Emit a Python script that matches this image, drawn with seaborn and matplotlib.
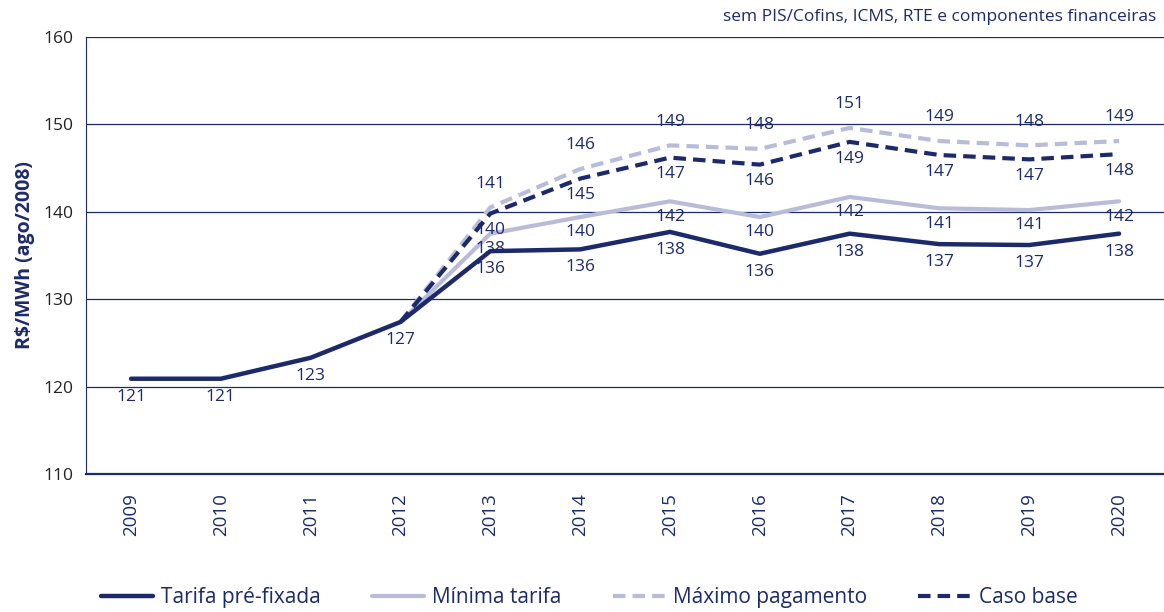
import pandas as pd
import seaborn as sns
import matplotlib.pyplot as plt

# data
years = [2009, 2010, 2011, 2012, 2013, 2014, 2015, 2016, 2017, 2018, 2019, 2020]
tarifa_pre = [120.9, 120.9, 123.3, 127.4, 135.5, 135.7, 137.7, 135.2, 137.5, 136.3, 136.2, 137.5]
minima_tarifa = [127.4, 137.5, 139.4, 141.2, 139.4, 141.7, 140.4, 140.2, 141.2]
maximo_pag = [127.4, 140.5, 144.9, 147.6, 147.2, 149.6, 148.1, 147.6, 148.1]
caso_base = [127.4, 139.8, 143.8, 146.2, 145.4, 148.0, 146.5, 146.0, 146.6]
later_years = years[3:]

lbl_tarifa = [121, 121, 123, 127, 136, 136, 138, 136, 138, 137, 137, 138]
lbl_minima = [138, 140, 142, 140, 142, 141, 141, 142]
lbl_maximo = [141, 146, 149, 148, 151, 149, 148, 149]
lbl_base = [140, 145, 147, 146, 149, 147, 147, 148]

navy = "#1c2a6b"
lilac = "#b9bcd8"

sns.set_style("white")
plt.rcParams["font.family"] = ["Open Sans", "DejaVu Sans"]

fig = plt.figure(figsize=(11.64, 6.12), dpi=100)
ax = fig.add_axes([0.074, 0.2255, 0.926, 0.714])

pos = {y: i for i, y in enumerate(years)}
df_pre = pd.DataFrame({"x": [pos[y] for y in years], "v": tarifa_pre})
df_min = pd.DataFrame({"x": [pos[y] for y in later_years], "v": minima_tarifa})
df_max = pd.DataFrame({"x": [pos[y] for y in later_years], "v": maximo_pag})
df_base = pd.DataFrame({"x": [pos[y] for y in later_years], "v": caso_base})

sns.lineplot(data=df_min, x="x", y="v", ax=ax, color=lilac, lw=3, label="Mínima tarifa")
sns.lineplot(data=df_max, x="x", y="v", ax=ax, color=lilac, lw=3, label="Máximo pagamento")
ax.lines[-1].set_dashes((3, 1.7))
sns.lineplot(data=df_base, x="x", y="v", ax=ax, color=navy, lw=3, label="Caso base")
ax.lines[-1].set_dashes((3, 1.7))
sns.lineplot(data=df_pre, x="x", y="v", ax=ax, color=navy, lw=3.2, label="Tarifa pré-fixada")

# value labels
kw = dict(textcoords="offset points", ha="center", va="center", fontsize=12.5, color=navy)
for i, y in enumerate(years):
    ax.annotate(str(lbl_tarifa[i]), (pos[y], tarifa_pre[i]), xytext=(0, -13), **kw)
for i, y in enumerate(later_years[1:]):
    ax.annotate(str(lbl_minima[i]), (pos[y], minima_tarifa[i + 1]), xytext=(0, -11), **kw)
    ax.annotate(str(lbl_maximo[i]), (pos[y], maximo_pag[i + 1]), xytext=(0, 17), **kw)
    ax.annotate(str(lbl_base[i]), (pos[y], caso_base[i + 1]), xytext=(0, -12), **kw)

ax.set_ylim(110, 160)
ax.set_yticks(range(110, 161, 10))
ax.set_xlim(-0.5, len(years) - 0.5)
ax.set_xticks(range(len(years)))
ax.set_xticklabels([str(y) for y in years], rotation=90, fontsize=13.5, color=navy)
ax.set_xticks([i - 0.5 for i in range(len(years) + 1)], minor=True)
ax.tick_params(axis="x", which="major", length=0, pad=14)
ax.tick_params(axis="x", which="minor", length=9, width=0.8, color=navy, direction="out")
ax.tick_params(axis="y", length=6, width=0.8, color=navy, labelsize=12.5, labelcolor="#222222")
ax.yaxis.grid(True, color=navy, lw=0.9)
ax.set_axisbelow(True)
for s in ["top", "right"]:
    ax.spines[s].set_visible(False)
ax.spines["left"].set_color(navy)
ax.spines["bottom"].set_color(navy)
ax.spines["bottom"].set_linewidth(1.6)
ax.set_xlabel("")
ax.set_ylabel("R\\$/MWh (ago/2008)", fontsize=14, fontweight="bold", color=navy, labelpad=6)

fig.text(0.993, 0.972, "sem PIS/Cofins, ICMS, RTE e componentes financeiras",
         ha="right", va="center", fontsize=12.5, color=navy)

handles, labels = ax.get_legend_handles_labels()
order = [3, 0, 1, 2]
ax.legend([handles[k] for k in order], [labels[k] for k in order],
          loc="center", bbox_to_anchor=(0.506, 0.024), bbox_transform=fig.transFigure,
          ncol=4, frameon=False, fontsize=15, handlelength=2.5, handletextpad=0.4,
          columnspacing=2.45, labelcolor=navy)

fig.savefig("out.png", dpi=100)
